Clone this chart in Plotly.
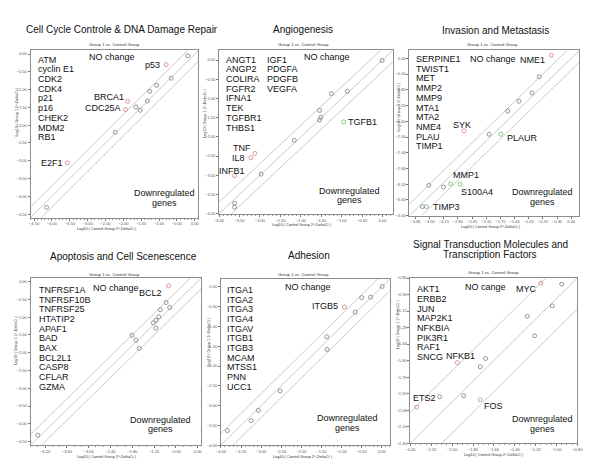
import math
import plotly.graph_objects as go

# ---------------- data ----------------
titles = [["Cell Cycle Controle & DNA Damage Repair"], ["Angiogenesis"], ["Invasion and Metastasis"],
          ["Apoptosis and Cell Scenescence"], ["Adhesion"],
          ["Signal Transduction Molecules and", "Transcription Factors"]]
subtitle = "Group 1 vs. Control Group"
x_title = "Log10 ( Control Group 2^-DeltaCt )"
y_title = "Log10 ( Group 1 2^-DeltaCt )"
nochange_texts = ["NO change", "NO change", "NO change", "NO change", "NO change", "NO cange"]
down_texts = ["Downregulated", "genes"]

p1_names = ["", "p53", "", "", "", "", "", "", "BRCA1", "CDC25A", "", "E2F1", ""]
p1_x = [-0.20, -0.80, -0.66, -1.07, -1.26, -1.33, -1.65, -1.53, -1.88, -1.94, -2.23, -3.57, -4.15]
p1_y = [-0.05, -0.30, -0.68, -0.88, -1.05, -1.32, -1.49, -1.58, -1.33, -1.56, -2.20, -3.06, -4.31]
p1_status = ["n", "up", "n", "n", "n", "n", "n", "n", "up", "up", "n", "up", "n"]
p1_list = ["ATM", "cyclin E1", "CDK2", "CDK4", "p21", "p16", "CHEK2", "MDM2", "RB1"]

p2_names = ["", "", "", "", "", "", "TGFB1", "", "TNF", "IL8", "", "INFB1", "", ""]
p2_x = [-0.01, -0.86, -1.25, -1.54, -1.51, -1.54, -0.95, -2.16, -3.12, -3.22, -2.97, -3.62, -3.62, -3.62]
p2_y = [-0.01, -0.81, -0.87, -1.31, -1.49, -1.56, -1.61, -2.09, -2.43, -2.54, -2.97, -3.01, -3.73, -3.83]
p2_status = ["n", "n", "n", "n", "n", "n", "down", "n", "up", "up", "n", "up", "n", "n"]
p2_list = ["ANGT1", "ANGP2", "COLIRA", "FGFR2", "IFNA1", "TEK", "TGFBR1", "THBS1"]
p2_list2 = ["IGF1", "PDGFA", "PDGFB", "VEGFA"]

p3_names = ["NME1", "", "", "", "", "SYK", "", "PLAUR", "", "", "MMP1", "S100A4", "TIMP3", ""]
p3_x = [-0.49, -0.79, -0.97, -1.29, -1.57, -2.65, -2.03, -1.74, -3.52, -3.16, -2.98, -2.75, -3.58, -3.68]
p3_y = [0.08, -0.47, -0.88, -1.09, -1.34, -1.84, -1.93, -1.93, -3.23, -3.27, -3.19, -3.20, -3.77, -3.77]
p3_status = ["up", "n", "n", "n", "n", "up", "n", "down", "n", "n", "down", "down", "down", "n"]
p3_list = ["SERPINE1", "TWIST1", "MET", "MMP2", "MMP9", "MTA1", "MTA2", "NME4", "PLAU", "TIMP1"]

p4_names = ["BCL2", "", "", "", "", "", "", "", "", "", "", ""]
p4_x = [-0.80, -0.87, -0.77, -1.03, -1.07, -1.15, -1.22, -1.15, -1.81, -1.70, -1.61, -4.40]
p4_y = [-0.12, -0.59, -0.73, -0.79, -0.99, -1.09, -1.16, -1.31, -1.51, -1.65, -1.88, -4.32]
p4_status = ["up", "n", "n", "n", "n", "n", "n", "n", "n", "n", "n", "n"]
p4_list = ["TNFRSF1A", "TNFRSF10B", "TNFRSF25", "HTATIP2", "APAF1", "BAD", "BAX", "BCL2L1",
           "CASP8", "CFLAR", "GZMA"]

p5_names = ["", "", "", "ITGB5", "", "", "", "", "", "", ""]
p5_x = [0.01, -0.28, -0.50, -0.93, -0.66, -1.37, -1.36, -2.53, -3.07, -3.25, -3.84]
p5_y = [0.01, -0.26, -0.27, -0.51, -0.64, -1.26, -1.58, -2.63, -3.12, -3.38, -3.63]
p5_status = ["n", "n", "n", "up", "n", "n", "n", "n", "n", "n", "n"]
p5_list = ["ITGA1", "ITGA2", "ITGA3", "ITGA4", "ITGAV", "ITGB1", "ITGB3", "MCAM", "MTSS1", "PNN", "UCC1"]

p6_names = ["MYC", "", "", "", "", "", "NFKB1", "", "", "", "FOS", "ETS2"]
p6_x = [-1.15, -0.95, -1.04, -1.28, -1.21, -1.68, -1.95, -1.73, -2.12, -1.89, -1.73, -2.34]
p6_y = [-0.85, -0.86, -1.07, -1.17, -1.36, -1.58, -1.62, -1.66, -1.95, -1.94, -1.98, -2.05]
p6_status = ["up", "n", "n", "n", "n", "n", "up", "n", "n", "n", "down", "up"]
p6_list = ["AKT1", "ERBB2", "JUN", "MAP2K1", "NFKBIA", "PIK3R1", "RAF1", "SNCG"]

FOLD = math.log10(2)

# ---------------- layout helpers ----------------
W, H = 600, 464
FONT = "Liberation Sans, Arial, sans-serif"
def fx(px): return px / W
def fy(py): return 1 - py / H

status_color = {"n": "#8a8a8a", "up": "#d98a8a", "down": "#7fbf7f"}

panels = [
    dict(frame=(26, 197, 48, 217), rng=(-4.6, 0.1), dx=0.5, dy=0.5, x=p1_x, y=p1_y, st=p1_status, nm=p1_names,
         title_c=(119, [27]), sub_c=(112, 42.3), xt=(104, 228.5), yt=(12, 110),
         lists=[(p1_list, 32.7, 57.3)], noc=(109, 55), down=(162, 192.3)),
    dict(frame=(218, 395, 48, 213), rng=(-4.0, 0.25), dx=0.5, dy=0.5, x=p2_x, y=p2_y, st=p2_status, nm=p2_names,
         title_c=(303.3, [27]), sub_c=(303.7, 42.3), xt=(303, 224.5), yt=(204, 111),
         lists=[(p2_list, 224.3, 57.3), (p2_list2, 266, 57.3)], noc=(328, 54.3), down=(350.7, 190)),
    dict(frame=(412, 585, 48, 215), rng=(-4.0, 0.2), dx=0.35, dy=0.4, x=p3_x, y=p3_y, st=p3_status, nm=p3_names,
         title_c=(499.5, [28]), sub_c=(496.7, 41.7), xt=(495, 226.5), yt=(401, 105),
         lists=[(p3_list, 417.7, 56.7)], noc=(497, 56.7), down=(547.5, 191.3)),
    dict(frame=(26, 200, 278, 447), rng=(-4.6, 0.1), dx=0.6, dy=0.5, x=p4_x, y=p4_y, st=p4_status, nm=p4_names,
         title_c=(121, [256.7]), sub_c=(112, 274.3), xt=(104, 458.5), yt=(12, 341),
         lists=[(p4_list, 34, 290)], noc=(113.5, 288.3), down=(158, 421.3)),
    dict(frame=(220, 392, 279, 447), rng=(-4.0, 0.2), dx=0.5, dy=0.5, x=p5_x, y=p5_y, st=p5_status, nm=p5_names,
         title_c=(309.7, [255.7]), sub_c=(303.7, 274), xt=(304, 458.5), yt=(208, 342),
         lists=[(p5_list, 225.3, 290)], noc=(308.3, 287.3), down=(349, 420)),
    dict(frame=(413, 583, 278, 445), rng=(-2.4, -0.8), dx=0.2, dy=0.16, x=p6_x, y=p6_y, st=p6_status, nm=p6_names,
         title_c=(494.5, [243.7, 254.7]), sub_c=(498, 272.7), xt=(498, 456.5), yt=(401, 325),
         lists=[(p6_list, 419, 289.3)], noc=(489.8, 286.7), down=(547.5, 420.7)),
]

# label placement relative to the point (xanchor, xshift, yshift in px)
label_pos = {
    "p53": ("right", -5, 0), "BRCA1": ("right", -3, 4), "CDC25A": ("right", -4, 2), "E2F1": ("right", -3, 0),
    "TGFB1": ("left", 3, 0), "TNF": ("right", -3, 5), "IL8": ("right", -5, 0), "INFB1": ("right", 11, 5),
    "NME1": ("right", -5, -4.6), "SYK": ("center", -1.7, 6), "PLAUR": ("left", 5, -3.3),
    "MMP1": ("left", 1, 8.7), "S100A4": ("left", 0, -7.7), "TIMP3": ("left", 5.7, 0),
    "BCL2": ("right", -6, -7), "ITGB5": ("right", -5, 1),
    "MYC": ("right", -2.4, -6), "NFKB1": ("center", 3.3, 6.6), "FOS": ("left", 2.3, -6),
    "ETS2": ("left", -4.3, 9),
}

fig = go.Figure()
annotations = []
layout = {}

def ann(text, x, y, size, xanchor="center", angle=0, color="#111"):
    annotations.append(dict(text=text, x=fx(x), y=fy(y), xref="paper", yref="paper", showarrow=False,
                            xanchor=xanchor, yanchor="middle", textangle=angle, borderpad=0,
                            font=dict(family=FONT, size=size, color=color)))

for i, p in enumerate(panels, start=1):
    L, R, T, B = p["frame"]
    lo, hi = p["rng"]
    xa, ya = f"x{i}", f"y{i}"
    axis_common = dict(range=[lo, hi], showgrid=False, zeroline=False, showline=True, mirror=True,
                       linecolor="#8c8c8c", linewidth=1, ticks="outside", ticklen=2, tickwidth=0.7,
                       tickcolor="#777", tickformat=".2f", tick0=0,
                       tickfont=dict(family=FONT, size=4, color="#555"))
    layout[f"xaxis{i}"] = dict(axis_common, domain=[fx(L), fx(R)], anchor=ya, dtick=p["dx"],
                               minor=dict(ticks="outside", ticklen=1.2, tickcolor="#999", nticks=5))
    layout[f"yaxis{i}"] = dict(axis_common, domain=[fy(B), fy(T)], anchor=xa, dtick=p["dy"])

    # fold-change reference lines
    for off in (-FOLD, 0.0, FOLD):
        x0, x1 = max(lo, lo - off), min(hi, hi - off)
        fig.add_trace(go.Scatter(x=[x0, x1], y=[x0 + off, x1 + off], mode="lines", xaxis=xa, yaxis=ya,
                                 line=dict(color="#c4c4c4", width=0.9), hoverinfo="skip", showlegend=False))
    # points
    fig.add_trace(go.Scatter(x=p["x"], y=p["y"], mode="markers", xaxis=xa, yaxis=ya, showlegend=False,
                             text=p["nm"],
                             marker=dict(symbol="circle-open", size=4,
                                         color=[status_color[s] for s in p["st"]],
                                         line=dict(width=0.9))))
    # point labels
    for xv, yv, nm in zip(p["x"], p["y"], p["nm"]):
        if nm:
            xanc, xs, ys = label_pos[nm]
            annotations.append(dict(text=nm, x=xv, y=yv, xref=xa, yref=ya, showarrow=False,
                                    xanchor=xanc, yanchor="middle", xshift=xs, yshift=ys, borderpad=0,
                                    font=dict(family=FONT, size=9, color="#111")))
    # titles and texts
    tx, tys = p["title_c"]
    for line, ty in zip(titles[i - 1], tys):
        ann(line, tx, ty, 10)
    ann(subtitle, *p["sub_c"], 4.3, color="#333")
    ann(x_title, *p["xt"], 3.8, color="#333")
    ann(y_title, *p["yt"], 3.8, angle=-90, color="#333")
    for names, lx, ly in p["lists"]:
        for k, nm in enumerate(names):
            ann(nm, lx, ly + 9.8 * k, 9, xanchor="left")
    ann(nochange_texts[i - 1], *p["noc"], 9)
    dx_, dy_ = p["down"]
    ann(down_texts[0], dx_, dy_, 9)
    ann(down_texts[1], dx_, dy_ + 9.5, 9)

fig.update_layout(width=W, height=H, margin=dict(l=0, r=0, t=0, b=0), paper_bgcolor="white",
                  plot_bgcolor="white", showlegend=False, annotations=annotations, **layout)
fig.write_html("out.html", config={"displayModeBar": False},
               post_script="document.body.style.margin='0';document.body.style.overflow='hidden';")
